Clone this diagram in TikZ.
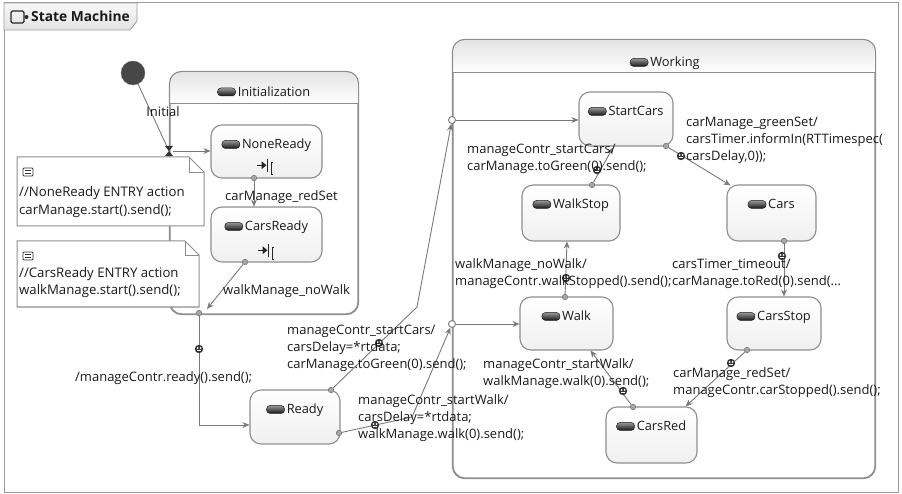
\documentclass[tikz,border=0pt]{standalone}
\usepackage{fontspec}
\setmainfont{Open Sans}
\newfontfamily\uifont{Open Sans}
\usetikzlibrary{arrows.meta,calc}

\definecolor{framegray}{HTML}{9A9A9A}
\definecolor{stategray}{HTML}{8E8E8E}
\definecolor{wiregray}{HTML}{7A7A7A}
\definecolor{inkgray}{HTML}{1A1A1A}

\newcommand\lblfont{\uifont\fontsize{13}{17}\selectfont}
\newcommand\ttlfont{\uifont\fontsize{12.8}{15}\selectfont}

\tikzset{
  % small dark capsule drawn before every state name
  pill/.pic={
    \shade[top color=black!40, bottom color=black!92, rounded corners=3.5pt] (-9,-4) rectangle (9,4);
    \draw[black!88, line width=0.5pt, rounded corners=3.5pt] (-9,-4) rectangle (9,4);
  },
  % entry-action glyph
  entryico/.pic={
    \begin{scope}[scale=1.3]
    \draw[black!85, line width=1.2pt] (-8,-1) -- (-3,-1);
    \fill[black!85] (-0.8,-1) -- (-4.5,-4) -- (-4.5,2) -- cycle;
    \draw[black!85, line width=1.3pt] (0,-6) -- (0,4);
    \draw[black!85, line width=1.1pt] (4.5,-3) -- (2.8,-3) -- (2.8,6) -- (4.5,6);
    \end{scope}
  },
  % comment glyph in notes
  noteico/.pic={
    \draw[black!80, line width=0.8pt, rounded corners=1pt] (-5,-4) rectangle (5,4);
    \draw[black!80, line width=0.7pt] (-3,-1.2) -- (3,-1.2) (-3,1.4) -- (3,1.4);
  },
  % action marker on a transition
  mk/.pic={
    \fill[black!80] (0,0) circle (4.2);
    \fill[white] (-1.5,-1) circle (1) (1.5,-1) circle (1);
    \draw[white, line width=0.7pt] (-1.7,1.6) -- (1.7,1.6);
  },
}

\begin{document}
\begin{tikzpicture}[x=1pt, y=-1pt,
  every node/.style={text=inkgray},
  lbl/.style={font=\lblfont, align=left, anchor=north west, inner sep=0pt},
  sglbl/.style={font=\lblfont, anchor=base west, inner sep=0pt},
  st/.style={draw=stategray, line width=1.1pt, rounded corners=11pt,
    top color=white, bottom color=black!6, inner sep=0pt},
  comp/.style={draw=stategray, line width=1.1pt, rounded corners=12pt, fill=white, inner sep=0pt},
  ttl/.style={font=\ttlfont, inner sep=0pt, anchor=base},
  wire/.style={draw=wiregray, line width=0.9pt},
  trans/.style={wire, -{Stealth[length=7pt,width=6pt]}},
  cpt/.style={circle, draw=wiregray, fill=black!35, inner sep=0pt, minimum size=5.5pt, line width=0.6pt},
  ept/.style={circle, draw=wiregray, fill=white, inner sep=0pt, minimum size=7pt, line width=0.9pt},
  notebox/.style={draw=stategray, fill=white, line width=1pt},
]
\useasboundingbox (0,0) rectangle (902,494);

% ---------- diagram frame and tab ----------
\draw[framegray, line width=1pt] (4,3) rectangle (898,492);
\shade[top color=black!3, bottom color=black!11, draw=framegray, line width=0.8pt]
  (4,3) -- (137,3) -- (137,21) -- (130,30) -- (4,30) -- cycle;
\draw[black!85, line width=1.1pt, rounded corners=1.5pt] (11,11) rectangle (24,23);
\fill[black!85] (26.5,17) circle (2);
\node[font=\uifont\bfseries\fontsize{13.8}{15}\selectfont, anchor=base west, inner sep=0pt] (smtitle) at (31,22) {State Machine};

% ---------- composite states ----------
\node[comp, minimum width=188pt, minimum height=242pt] (init) at (264,193) {};
\begin{scope}
  \clip[rounded corners=12pt] (init.north west) rectangle (init.south east);
  \shade[top color=black!11, bottom color=white] (init.north west) rectangle ($(init.north east)+(0,32)$);
\end{scope}
\draw[stategray, line width=1.1pt, rounded corners=12pt] (init.north west) rectangle (init.south east);
\draw[stategray, line width=1pt] ($(init.north west)+(0,32)$) -- ($(init.north east)+(0,32)$);
\node[ttl] (init-t) at ($(init.north)+(10,25)$) {Initialization};
\pic at ($(init-t.base west)+(-11,-4.5)$) {pill};

\node[comp, minimum width=422pt, minimum height=438pt] (working) at (664,259) {};
\begin{scope}
  \clip[rounded corners=12pt] (working.north west) rectangle (working.south east);
  \shade[top color=black!11, bottom color=white] (working.north west) rectangle ($(working.north east)+(0,33)$);
\end{scope}
\draw[stategray, line width=1.1pt, rounded corners=12pt] (working.north west) rectangle (working.south east);
\draw[stategray, line width=1pt] ($(working.north west)+(0,33)$) -- ($(working.north east)+(0,33)$);
\node[ttl] (working-t) at ($(working.north)+(11,27.5)$) {Working};
\pic at ($(working-t.base west)+(-11,-4.5)$) {pill};

% ---------- notes ----------
\draw[notebox] (17,157) -- (189,157) -- (204,172) -- (204,226) -- (17,226) -- cycle;
\draw[stategray, line width=0.8pt] (189,157) -- (189,172) -- (204,172);
\pic at (28,172) {noteico};
\node[lbl, font=\uifont\fontsize{13.2}{18}\selectfont] (note1) at (19,186.5) {//NoneReady ENTRY action\\carManage.start().send();};

\draw[notebox] (17,241) -- (185,241) -- (199,255) -- (199,307) -- (17,307) -- cycle;
\draw[stategray, line width=0.8pt] (185,241) -- (185,255) -- (199,255);
\pic at (28,256) {noteico};
\node[lbl, font=\uifont\fontsize{13.2}{17}\selectfont] (note2) at (19,267.5) {//CarsReady ENTRY action\\walkManage.start().send();};

% ---------- simple states ----------
\foreach \n/\cx/\cy/\w/\h/\t in {
    noneready/266.5/151.5/111/53/NoneReady,
    carsready/266.5/234.5/111/55/CarsReady,
    ready/295/417/90/54/Ready,
    startcars/626/119/94/54/StartCars,
    walkstop/571/213/98/56/WalkStop,
    cars/771.5/213/89/56/Cars,
    walk/566.5/323.5/93/53/Walk,
    carsstop/774/323.5/94/53/CarsStop,
    carsred/651.5/435/91/56/CarsRed} {
  \node[st, minimum width=\w pt, minimum height=\h pt] (\n) at (\cx,\cy) {};
  \node[ttl] (\n-t) at ($(\n.north)+(10,24.5)$) {\t};
  \pic at ($(\n-t.base west)+(-11,-4.5)$) {pill};
}
\pic at ($(noneready.south)+(1,-12)$) {entryico};
\pic at ($(carsready.south)+(2,-11)$) {entryico};

% ---------- pseudostates and connection points ----------
\node[circle, fill=black!72, draw=black!55, minimum size=24pt, inner sep=0pt] (init0) at (133,73) {};
\coordinate (ienter) at (169,151);
\node[cpt] (nr-out) at (254,178) {};
\node[cpt] (cr-out) at (245,262) {};
\coordinate (cr-tip) at (207,309);
\node[cpt] (xpt) at (199,313) {};
\node[cpt] (rd-out1) at (331,390) {};
\node[cpt] (rd-out2) at (339,433) {};
\coordinate (bend1) at (417,307);
\coordinate (bend2) at (412,417);
\node[ept] (en1) at (452,120) {};
\node[ept] (en2) at (452,324) {};
\node[cpt] (sc-out) at (666,146) {};
\node[cpt] (ws-out) at (592,185) {};
\node[cpt] (wk-out) at (565,297) {};
\node[cpt] (cs-out) at (784,241) {};
\node[cpt] (csp-out) at (747,350) {};
\node[cpt] (crd-out) at (633,407) {};

% ---------- transitions ----------
\draw[wire] (init0) -- (ienter);
\fill[black!80] (165,146) -- (173,146) -- (165,156) -- (173,156) -- cycle;
\draw[trans] ($(ienter)+(4,0)$) -- (noneready.west |- ienter);
\draw[trans] (nr-out) -- (carsready.north -| nr-out);
\draw[trans] (cr-out) -- (cr-tip);
\draw[trans] (xpt) |- ($(ready.west)+(0,8)$);
\draw[trans] (rd-out1) -- (bend1) -- (en1);
\draw[trans] (rd-out2) -- (bend2) -- (en2);
\draw[trans] (en1) -- (startcars.west |- en1);
\draw[trans] (en2) -- (walk.west |- en2);
\draw[trans] (sc-out) -- ($(cars.north west)+(4,1)$);
\draw[trans] (ws-out) -- ($(startcars.south)+(-13,1)$);
\draw[trans] (wk-out) -- ($(walkstop.south)+(-4,0)$);
\draw[trans] (cs-out) -- (carsstop.north -| cs-out);
\draw[trans] (csp-out) -- ($(carsred.north east)+(-12,0)$);
\draw[trans] (crd-out) -- ($(walk.south)+(24,0)$);

% action markers
\foreach \p in {(199,349),(379,343),(375,425),(681,156),(597,170),(566,278),(782,256),(731,363),(623,391)}
  \pic at \p {mk};

% ---------- transition labels ----------
\node[font=\lblfont, anchor=base, inner sep=0pt] (l-initial) at (163,116.5) {Initial};
\node[sglbl] (l-redset0) at (225,200.5) {carManage\_redSet};
\node[sglbl] (l-nowalk0) at (223,294.5) {walkManage\_noWalk};
\node[sglbl] (l-ready) at (75,381.5) {/manageContr.ready().send();};
\node[lbl] (l-startcars0) at (287,324.5) {manageContr\_startCars/\\carsDelay=*rtdata;\\carManage.toGreen(0).send();};
\node[lbl] (l-startwalk0) at (358,394.5) {manageContr\_startWalk/\\carsDelay=*rtdata;\\walkManage.walk(0).send();};
\node[lbl] (l-greenset) at (686,116.5) {carManage\_greenSet/\\carsTimer.informIn(RTTimespec(\\carsDelay,0));};
\node[lbl] (l-startcars1) at (467,143.5) {manageContr\_startCars/\\carManage.toGreen(0).send();};
\node[lbl] (l-nowalk1) at (455,258.5) {walkManage\_noWalk/\\manageContr.walkStopped().send();};
\node[lbl] (l-timeout) at (672,258.5) {carsTimer\_timeout/\\carManage.toRed(0).send(...};
\node[lbl] (l-startwalk1) at (483,358.5) {manageContr\_startWalk/\\walkManage.walk(0).send();};
\node[lbl] (l-redset1) at (673,367.5) {carManage\_redSet/\\manageContr.carStopped().send();};
\end{tikzpicture}
\end{document}
